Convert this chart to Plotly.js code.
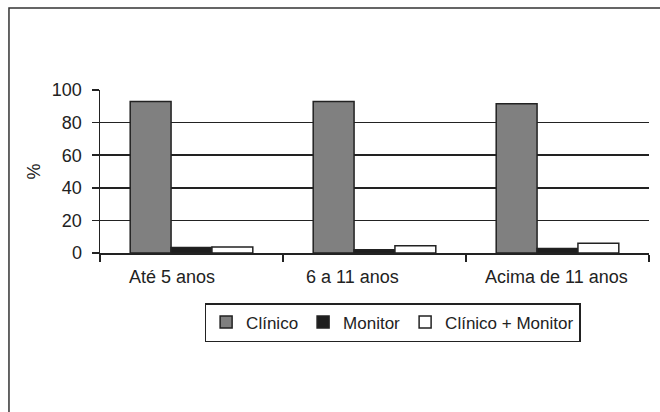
<!DOCTYPE html>
<html>
<head>
<meta charset="utf-8">
<script src="https://cdn.plot.ly/plotly-3.0.1.min.js"></script>
<style>html,body{margin:0;padding:0;background:#fff;}#chart{width:660px;height:412px;}</style>
</head>
<body>
<div id="chart"></div>
<script>
var categories = ["Até 5 anos", "6 a 11 anos", "Acima de 11 anos"];
var seriesNames = ["Clínico", "Monitor", "Clínico + Monitor"];
var clinico = [93, 93, 91.5];
var monitor = [3.3, 2, 2.7];
var clinicoMonitor = [3.7, 4.5, 6];
var yTicks = [0, 20, 40, 60, 80, 100];

var fills = ["#808080", "#1e1e1e", "#ffffff"];
var values = [clinico, monitor, clinicoMonitor];
var traces = values.map(function (v, i) {
  return {
    type: "bar",
    name: seriesNames[i],
    x: categories,
    y: v,
    marker: { color: fills[i], line: { color: "#222", width: 1.5 } },
    hoverinfo: "skip"
  };
});

var fam = "Liberation Sans, Arial, sans-serif";
var font = { family: fam, size: 18, color: "#222" };
var legendFont = { family: fam, size: 17, color: "#222" };
var labelShift = [-19.5, -22, -1.5];

var annotations = [{
  text: "%", xref: "paper", yref: "paper", x: -0.122, y: 0.5,
  showarrow: false, textangle: -90, font: font, xanchor: "center", yanchor: "middle"
}];
categories.forEach(function (c, i) {
  annotations.push({
    text: c, x: c, xref: "x", yref: "paper", y: -0.145, xshift: labelShift[i],
    showarrow: false, font: font, xanchor: "center", yanchor: "middle"
  });
});

var layout = {
  width: 660, height: 412,
  margin: { l: 100, r: 11, t: 90, b: 159 },
  paper_bgcolor: "#fff", plot_bgcolor: "#fff",
  barmode: "group", bargap: 0.33, bargroupgap: 0,
  font: font,
  showlegend: true,
  legend: {
    orientation: "h", x: 0.533, xanchor: "center", y: -0.307, yanchor: "top",
    bordercolor: "#222", borderwidth: 1.5, font: legendFont, traceorder: "normal",
    bgcolor: "#fff"
  },
  xaxis: {
    type: "category", tickson: "boundaries", ticks: "outside", ticklen: 7,
    tickcolor: "#222", tickwidth: 1.5, showline: true, linecolor: "#222", linewidth: 1.5,
    showgrid: false, showticklabels: false, fixedrange: true
  },
  yaxis: {
    range: [0, 100], tickvals: yTicks, ticks: "outside", ticklen: 7,
    tickcolor: "#222", tickwidth: 1.5, showline: true, linecolor: "#222", linewidth: 1.5,
    showgrid: true, gridcolor: "#222", gridwidth: 1.5, zeroline: false,
    tickfont: font, ticklabelstandoff: 6, fixedrange: true
  },
  annotations: annotations,
  shapes: [{
    type: "rect", xref: "paper", yref: "paper",
    x0: -0.1658, x1: 1.2, y0: -1.2, y1: 1.503,
    line: { color: "#333", width: 1.5 }, fillcolor: "rgba(0,0,0,0)", layer: "below"
  }]
};

Plotly.newPlot("chart", traces, layout, { displayModeBar: false, staticPlot: true });
</script>
</body>
</html>
